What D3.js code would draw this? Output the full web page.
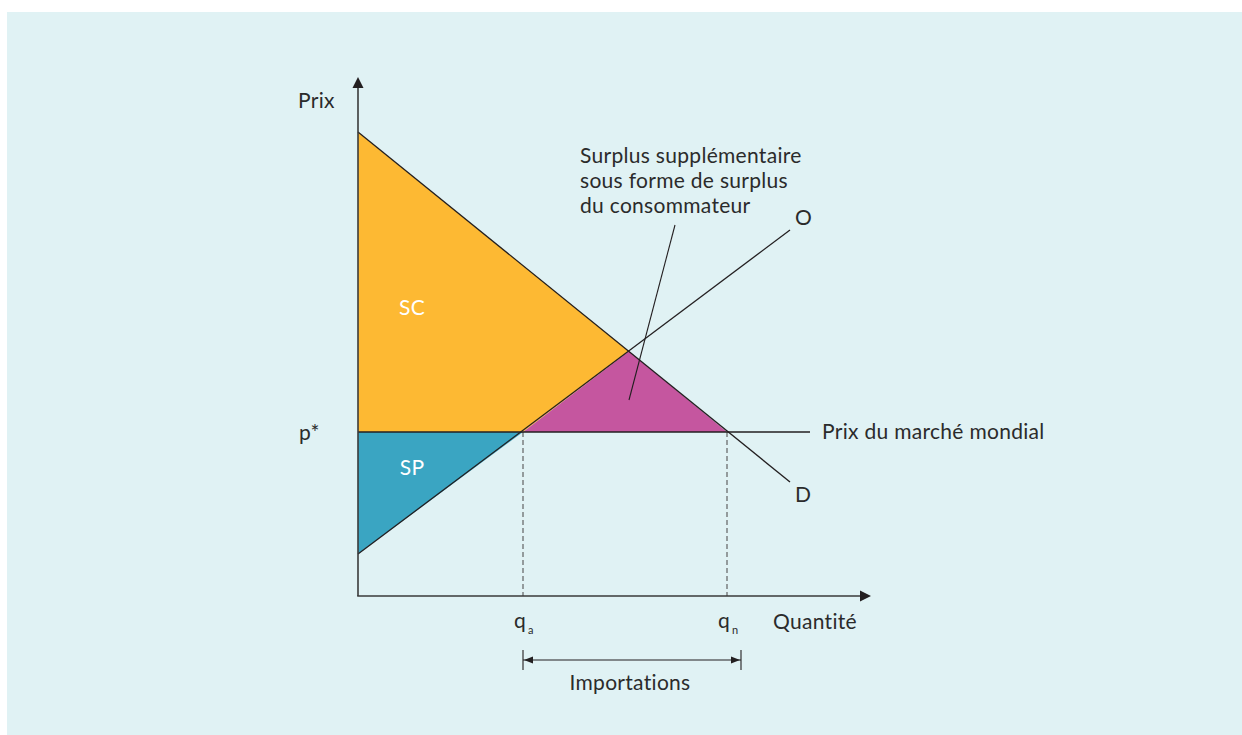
<!DOCTYPE html>
<html>
<head>
<meta charset="utf-8">
<script src="https://d3js.org/d3.v7.min.js"></script>
<style>
  html, body { margin: 0; padding: 0; background: #ffffff; }
  svg { display: block; }
  text { font-family: Lato, "Open Sans", sans-serif; fill: #2b2b2b; letter-spacing: 0.3px; }
</style>
</head>
<body>
<div id="chart"></div>
<script>
// Values (quantity 0..100, price 0..120)
var demand = [{q: 0, p: 116}, {q: 86.4, p: 28.5}];
var supply = [{q: 0, p: 10.5}, {q: 86.4, p: 91.5}];
var p_star = 41;
var q_a = 33;
var q_n = 73.8;
var equilibrium = {q: 54.2, p: 61.2};
var world_price_end = 90.4;
var imports_end = 76.6;

var note_lines = ['Surplus supplémentaire', 'sous forme de surplus', 'du consommateur'];

// Chart params
var width  = 1242;
var height = 735;
var bg_color     = '#e0f2f4';
var sc_color     = '#fdb933';
var sp_color     = '#3aa5c2';
var extra_color  = '#c5569f';
var line_color   = '#231f20';
var axis_color   = '#3a3a3a';

var svg = d3.select('#chart')
    .append('svg')
    .attr('width', width)
    .attr('height', height);

svg.append('rect')
    .attr('x', 7).attr('y', 12)
    .attr('width', width - 7).attr('height', height - 12)
    .attr('fill', bg_color);

// Scales
var x_scale = d3.scaleLinear().domain([0, 100]).range([358, 858]);
var y_scale = d3.scaleLinear().domain([0, 120]).range([596, 116]);

var line = d3.line()
    .x(function(d) { return x_scale(d.q); })
    .y(function(d) { return y_scale(d.p); });

// Areas
var sc_area = [demand[0], equilibrium, {q: q_a, p: p_star}, {q: 0, p: p_star}];
var extra_area = [{q: q_a, p: p_star}, equilibrium, {q: q_n, p: p_star}];
var sp_area = [{q: 0, p: p_star}, {q: q_a, p: p_star}, supply[0]];

[[sc_area, sc_color], [extra_area, extra_color], [sp_area, sp_color]].forEach(function(a) {
    svg.append('path')
        .attr('d', line(a[0]) + 'Z')
        .attr('fill', a[1]);
});

// Dashed drop lines
[q_a, q_n].forEach(function(q) {
    svg.append('line')
        .attr('x1', x_scale(q)).attr('x2', x_scale(q))
        .attr('y1', y_scale(p_star)).attr('y2', y_scale(0))
        .attr('stroke', '#555')
        .attr('stroke-width', 1.1)
        .attr('stroke-dasharray', '5,3');
});

// Curves
svg.append('path').attr('d', line(demand))
    .attr('fill', 'none').attr('stroke', line_color).attr('stroke-width', 1.3);
svg.append('path').attr('d', line(supply))
    .attr('fill', 'none').attr('stroke', line_color).attr('stroke-width', 1.3);
svg.append('path').attr('d', line([{q: 0, p: p_star}, {q: world_price_end, p: p_star}]))
    .attr('fill', 'none').attr('stroke', line_color).attr('stroke-width', 1.3);

// Leader line for the note
svg.append('line')
    .attr('x1', 675).attr('y1', 225)
    .attr('x2', 629).attr('y2', 400)
    .attr('stroke', line_color).attr('stroke-width', 1.1);

// Axes
var x0 = x_scale(0), y0 = y_scale(0);
svg.append('line')
    .attr('x1', x0).attr('y1', y0).attr('x2', x0).attr('y2', 84)
    .attr('stroke', axis_color).attr('stroke-width', 1.6);
svg.append('line')
    .attr('x1', x0 - 0.8).attr('y1', y0).attr('x2', 864).attr('y2', y0)
    .attr('stroke', axis_color).attr('stroke-width', 1.6);
svg.append('path')
    .attr('d', 'M' + x0 + ',77 L' + (x0 - 5.5) + ',88 L' + (x0 + 5.5) + ',88 Z')
    .attr('fill', line_color);
svg.append('path')
    .attr('d', 'M871,' + y0 + ' L860,' + (y0 - 5.5) + ' L860,' + (y0 + 5.5) + ' Z')
    .attr('fill', line_color);

// Imports bracket
var by = 660;
var bx1 = x_scale(q_a), bx2 = x_scale(imports_end);
svg.append('line').attr('x1', bx1).attr('x2', bx2).attr('y1', by).attr('y2', by)
    .attr('stroke', line_color).attr('stroke-width', 1.1);
[bx1, bx2].forEach(function(x) {
    svg.append('line').attr('x1', x).attr('x2', x).attr('y1', by - 10).attr('y2', by + 10)
        .attr('stroke', line_color).attr('stroke-width', 1.1);
});
svg.append('path')
    .attr('d', 'M' + (bx1 + 1) + ',' + by + ' L' + (bx1 + 10) + ',' + (by - 3.5) + ' L' + (bx1 + 10) + ',' + (by + 3.5) + ' Z')
    .attr('fill', line_color);
svg.append('path')
    .attr('d', 'M' + (bx2 - 1) + ',' + by + ' L' + (bx2 - 10) + ',' + (by - 3.5) + ' L' + (bx2 - 10) + ',' + (by + 3.5) + ' Z')
    .attr('fill', line_color);

// Texts
var fs = 21;
function label(x, y, txt, anchor, color) {
    return svg.append('text')
        .attr('x', x).attr('y', y)
        .attr('text-anchor', anchor || 'start')
        .style('font-size', fs + 'px')
        .style('fill', color || null)
        .text(txt);
}

label(298, 108, 'Prix');
label(299, 440, 'p*');
label(412, 315, 'SC', 'middle', '#ffffff');
label(412, 475, 'SP', 'middle', '#ffffff');
label(795, 225, 'O');
label(795, 502, 'D');
label(822, 439, 'Prix du marché mondial');
label(773, 629, 'Quantité');
label(630, 690, 'Importations', 'middle');

note_lines.forEach(function(t, i) {
    label(580, 163 + i * 25, t);
});

// q subscripts
[[q_a, 'a'], [q_n, 'n']].forEach(function(d) {
    var t = svg.append('text')
        .attr('x', x_scale(d[0]) - 9).attr('y', 628)
        .style('font-size', fs + 'px');
    t.append('tspan').text('q');
    t.append('tspan').attr('dx', 2).attr('dy', 6).style('font-size', '11px').text(d[1]);
});
</script>
</body>
</html>
